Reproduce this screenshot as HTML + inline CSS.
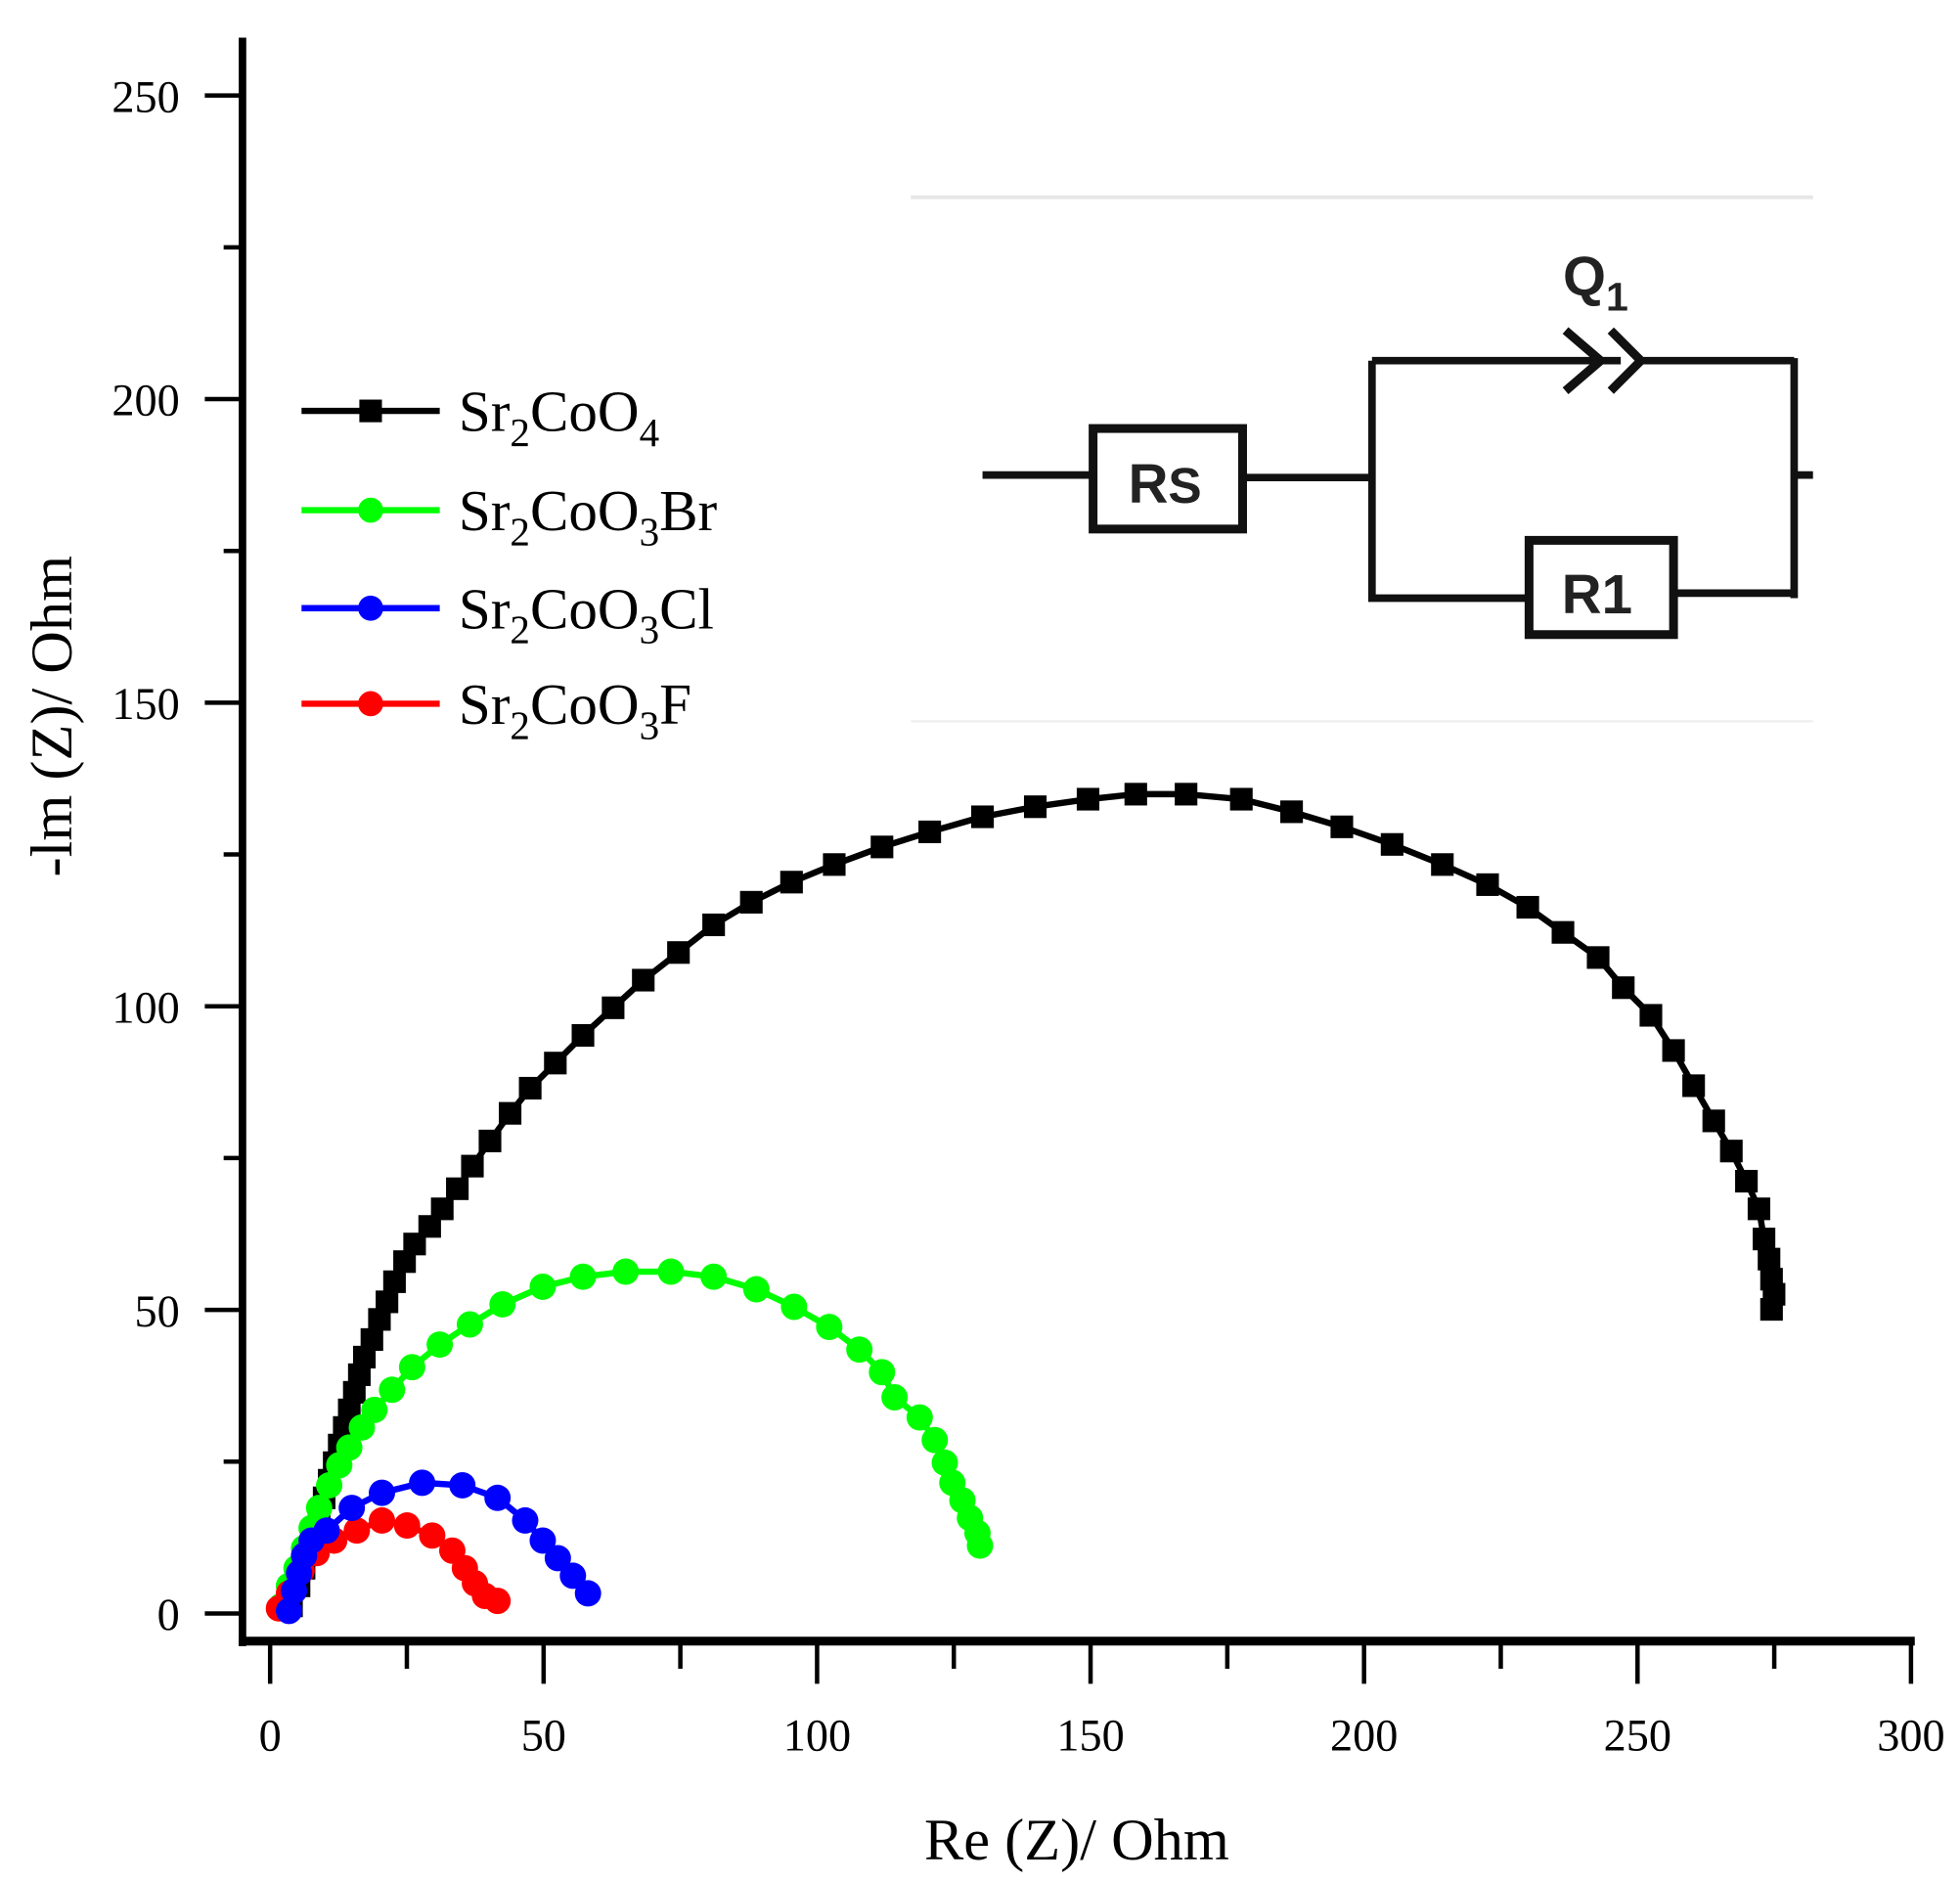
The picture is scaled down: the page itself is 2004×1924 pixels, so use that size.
<!DOCTYPE html>
<html><head><meta charset="utf-8"><style>html,body{margin:0;padding:0;background:#fff}svg{display:block}</style></head>
<body>
<svg id="s" width="2004" height="1924" viewBox="0 0 1560 1497.7" xmlns="http://www.w3.org/2000/svg" font-family="Liberation Serif, serif">
<rect width="1560" height="1498" fill="#fff"/>
<line x1="725" y1="157" x2="1443" y2="157" stroke="#e6e6e6" stroke-width="3"/>
<line x1="725" y1="574" x2="1443" y2="574" stroke="#f0f0f0" stroke-width="2"/>
<g stroke="#111" stroke-width="6" fill="none">
<line x1="782" y1="378" x2="870" y2="378"/>
<rect x="870" y="341" width="119" height="80" stroke-width="7"/>
<line x1="989" y1="380" x2="1092" y2="380"/>
<polyline points="1092,287 1092,476 1217,476"/>
<line x1="1092" y1="287" x2="1290" y2="287"/>
<line x1="1305" y1="287" x2="1428" y2="287"/>
<polyline points="1246,263 1274,287 1246,311" stroke-width="7"/>
<polyline points="1282,263 1306,287 1282,311" stroke-width="7"/>
<line x1="1428" y1="285" x2="1428" y2="476"/>
<line x1="1332" y1="472" x2="1430" y2="472"/>
<line x1="1428" y1="378" x2="1443" y2="378"/>
<rect x="1217" y="430" width="115" height="75" stroke-width="7"/>
</g>
<g font-family="Liberation Sans, sans-serif" font-weight="bold" fill="#222">
<text x="898" y="400" font-size="44">R<tspan font-size="40">S</tspan></text>
<text x="1243" y="488" font-size="44">R1</text>
<text x="1244" y="235" font-size="44">Q<tspan font-size="32" dy="12">1</tspan></text>
</g>
<g stroke="#000" fill="none">
<line x1="193" y1="30" x2="193" y2="1310" stroke-width="6"/>
<line x1="190" y1="1306" x2="1524" y2="1306" stroke-width="7"/>
<g id="ticks" stroke-width="3.5"></g>
</g>
<g font-size="36" text-anchor="end" id="yl"></g>
<g font-size="36" text-anchor="middle" id="xl"></g>
<text x="857" y="1480" font-size="47" text-anchor="middle">Re (Z)/ Ohm</text>
<text transform="translate(57,570) rotate(-90)" font-size="47" text-anchor="middle">-lm (Z)/ Ohm</text>
<g id="data"></g>
<g stroke-width="5">
<line x1="240" y1="327" x2="350" y2="327" stroke="#000"/><rect x="286" y="318" width="18" height="18" fill="#000"/>
<line x1="240" y1="406" x2="350" y2="406" stroke="#0f0"/><circle cx="295" cy="406" r="10" fill="#0f0"/>
<line x1="240" y1="484" x2="350" y2="484" stroke="#00f"/><circle cx="295" cy="484" r="10" fill="#00f"/>
<line x1="240" y1="560" x2="350" y2="560" stroke="#f00"/><circle cx="295" cy="560" r="10" fill="#f00"/>
</g>
<g font-size="46">
<text x="365" y="343">Sr<tspan font-size="32" dy="12">2</tspan><tspan dy="-12">CoO</tspan><tspan font-size="32" dy="12">4</tspan></text>
<text x="365" y="422">Sr<tspan font-size="32" dy="12">2</tspan><tspan dy="-12">CoO</tspan><tspan font-size="32" dy="12">3</tspan><tspan dy="-12">Br</tspan></text>
<text x="365" y="500">Sr<tspan font-size="32" dy="12">2</tspan><tspan dy="-12">CoO</tspan><tspan font-size="32" dy="12">3</tspan><tspan dy="-12">Cl</tspan></text>
<text x="365" y="576">Sr<tspan font-size="32" dy="12">2</tspan><tspan dy="-12">CoO</tspan><tspan font-size="32" dy="12">3</tspan><tspan dy="-12">F</tspan></text>
</g>
<script>
var NS="http://www.w3.org/2000/svg";
function el(p,t,a,txt){var e=document.createElementNS(NS,t);for(var k in a)e.setAttribute(k,a[k]);if(txt!=null)e.textContent=txt;p.appendChild(e);return e;}
var tk=document.getElementById('ticks'),yl=document.getElementById('yl'),xl=document.getElementById('xl');
for(var i=0;i<=10;i++){var y=1284-i*120.8;var maj=i%2==0;el(tk,'line',{x1:maj?163:178,y1:y,x2:193,y2:y});if(maj)el(yl,'text',{x:143,y:y+13},String(i*25));}
for(var i=0;i<=12;i++){var x=215+i*(1521-215)/12;var maj=i%2==0;el(tk,'line',{x1:x,y1:1306,x2:x,y2:maj?1340:1328});if(maj)el(xl,'text',{x:x,y:1393},String(i*25));}
var D=document.getElementById('data');
var S=[
["#000","sq",[[232,1278],[238,1262],[242,1248],[246,1234],[250,1220],[254,1206],[258,1192],[262,1178],[266,1164],[270,1150],[274,1136],[278,1122],[282,1108],[286,1094],[290,1080],[296,1066],[302,1050],[308,1036],[314,1020],[322,1004],[330,990],[342,976],[352,962],[364,946],[376,928],[390,908],[406,886],[422,866],[442,846],[464,824],[488,802],[512,780],[540,758],[568,736],[598,718],[630,702],[664,688],[702,674],[740,662],[782,650],[824,642],[866,636],[904,632],[944,632],[988,636],[1028,646],[1068,658],[1108,672],[1148,688],[1184,704],[1216,722],[1244,742],[1272,762],[1292,786],[1314,808],[1332,836],[1348,864],[1364,892],[1378,916],[1390,940],[1400,962],[1404,986],[1408,1002],[1410,1018],[1412,1030],[1410,1042]]],
["#0f0","c",[[224,1278],[230,1262],[236,1248],[242,1232],[248,1216],[254,1200],[262,1182],[270,1166],[278,1152],[288,1136],[298,1122],[312,1106],[328,1088],[350,1070],[374,1054],[400,1038],[432,1024],[464,1016],[498,1012],[534,1012],[568,1016],[602,1026],[632,1040],[660,1056],[684,1074],[702,1092],[712,1112],[732,1128],[744,1146],[752,1164],[758,1180],[766,1194],[772,1208],[778,1220],[780,1230]]],
["#f00","c",[[222,1280],[230,1268],[240,1250],[252,1236],[266,1226],[284,1218],[304,1210],[324,1214],[344,1222],[360,1234],[370,1248],[378,1260],[386,1270],[396,1274]]],
["#00f","c",[[230,1282],[234,1266],[238,1252],[242,1238],[248,1226],[260,1218],[280,1200],[304,1188],[336,1180],[368,1182],[396,1192],[418,1210],[432,1226],[444,1240],[456,1254],[468,1268]]]
];
S.forEach(function(s){
 el(D,'polyline',{points:s[2].map(function(p){return p.join(',')}).join(' '),fill:'none',stroke:s[0],'stroke-width':5,'stroke-linejoin':'round'});
 s[2].forEach(function(p){ if(s[1]=='sq')el(D,'rect',{x:p[0]-9,y:p[1]-9,width:18,height:18,fill:s[0]}); else el(D,'circle',{cx:p[0],cy:p[1],r:10.5,fill:s[0]}); });
});
</script>
</svg>
</body></html>
